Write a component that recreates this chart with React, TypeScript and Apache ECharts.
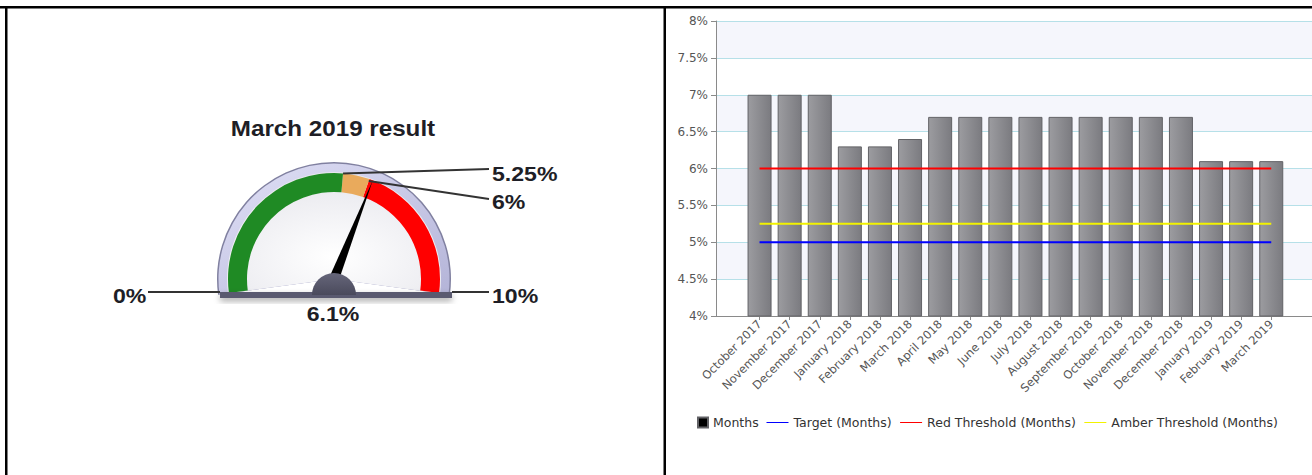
import React, { useEffect, useRef } from 'react';
import * as echarts from 'echarts';

// ---------- data ----------
const months = [
  'October 2017', 'November 2017', 'December 2017', 'January 2018', 'February 2018',
  'March 2018', 'April 2018', 'May 2018', 'June 2018', 'July 2018', 'August 2018',
  'September 2018', 'October 2018', 'November 2018', 'December 2018', 'January 2019',
  'February 2019', 'March 2019',
];
const monthValues = [7, 7, 7, 6.3, 6.3, 6.4, 6.7, 6.7, 6.7, 6.7, 6.7, 6.7, 6.7, 6.7, 6.7, 6.1, 6.1, 6.1];
const targetValues = [5, 5, 5, 5, 5, 5, 5, 5, 5, 5, 5, 5, 5, 5, 5, 5, 5, 5];
const redThresholdValues = [6, 6, 6, 6, 6, 6, 6, 6, 6, 6, 6, 6, 6, 6, 6, 6, 6, 6];
const amberThresholdValues = [5.25, 5.25, 5.25, 5.25, 5.25, 5.25, 5.25, 5.25, 5.25, 5.25, 5.25, 5.25, 5.25, 5.25, 5.25, 5.25, 5.25, 5.25];
const seriesNames = ['Months', 'Target (Months)', 'Red Threshold (Months)', 'Amber Threshold (Months)'];
const yMin = 4;
const yMax = 8;
const yInterval = 0.5;

const gaugeTitle = 'March 2019 result';
const gaugeMin = 0;
const gaugeMax = 10;
const gaugeAmber = 5.25;
const gaugeRed = 6;
const gaugeValue = 6.1;

// ---------- layout ----------
const W = 1312;
const H = 475;
const GCX = 334;
const GCY = 279;
const GR = 106;
const G_START = 187.6;
const G_END = -7.6;
const FONT = '"Liberation Sans", Arial, sans-serif';
const AXFONT = '"DejaVu Sans", Verdana, sans-serif';

const pct = (v: number) => `${v}%`;

function gaugePoint(v: number, r: number) {
  const a = ((G_START - ((v - gaugeMin) / (gaugeMax - gaugeMin)) * (G_START - G_END)) * Math.PI) / 180;
  return [GCX + r * Math.cos(a), GCY - r * Math.sin(a)];
}

function gaugeText(text: string, x: number, y: number, align: string, size = 21) {
  return {
    type: 'text',
    x,
    y,
    scaleX: 1.1,
    z: 20,
    style: {
      text,
      fill: '#1e1e26',
      fontSize: size,
      fontWeight: 'bold',
      fontFamily: FONT,
      align,
      verticalAlign: 'middle',
    },
  };
}

function leader(x1: number, y1: number, x2: number, y2: number) {
  return {
    type: 'line',
    z: 19,
    shape: { x1, y1, x2, y2 },
    style: { stroke: '#333', lineWidth: 2 },
  };
}

export default function App() {
  const ref = useRef<HTMLDivElement>(null);

  useEffect(() => {
    if (!ref.current) return;
    const chart = echarts.init(ref.current, undefined, { renderer: 'svg' });

    const ext = 0.135;
    const amberPt = gaugePoint(gaugeAmber, GR);
    const redPt = gaugePoint(gaugeRed, GR - 2);

    const barColor = {
      type: 'linear', x: 0, y: 0, x2: 1, y2: 0,
      colorStops: [
        { offset: 0, color: '#9c9ca0' },
        { offset: 1, color: '#7b7b80' },
      ],
    };

    const option: any = {
      animation: false,
      grid: [
        { left: 716, top: 21, right: 0, bottom: H - 316 },
        { left: 744.5, top: 21, width: 541.8, bottom: H - 316 },
      ],
      xAxis: [
        {
          gridIndex: 0, type: 'value', min: 0, max: 1,
          axisLine: { show: true, lineStyle: { color: '#8a8a8a' } },
          axisTick: { show: false }, axisLabel: { show: false }, splitLine: { show: false },
        },
        {
          gridIndex: 1, type: 'category', data: months,
          axisLine: { show: false },
          axisTick: { show: true, alignWithLabel: true, length: 4, lineStyle: { color: '#8a8a8a' } },
          axisLabel: {
            interval: 0, rotate: 45, margin: 6, fontSize: 11.5, color: '#555',
            fontFamily: AXFONT,
          },
        },
      ],
      yAxis: [
        {
          gridIndex: 0, type: 'value', min: yMin, max: yMax, interval: yInterval,
          axisLine: { show: true, lineStyle: { color: '#8a8a8a' } },
          axisTick: { show: true, length: 5, lineStyle: { color: '#8a8a8a' } },
          axisLabel: { formatter: pct, fontSize: 12, color: '#555', fontFamily: AXFONT, margin: 8 },
          splitLine: { show: true, lineStyle: { color: '#b6e0e8' } },
          splitArea: { show: true, areaStyle: { color: ['#ffffff', '#f5f6fc'] } },
        },
        {
          gridIndex: 1, type: 'value', min: yMin, max: yMax, interval: yInterval, show: false,
        },
      ],
      legend: [
        {
          left: 697, top: 416, padding: 0, itemWidth: 10, itemHeight: 10, selectedMode: false,
          textStyle: { fontSize: 12.5, color: '#333', fontFamily: AXFONT },
          data: [{ name: seriesNames[0], icon: 'rect', itemStyle: { color: '#000' } }],
        },
        {
          left: 766, top: 416, padding: 0, itemWidth: 22, itemHeight: 10, itemGap: 8, selectedMode: false,
          textStyle: { fontSize: 12.5, color: '#333', fontFamily: AXFONT },
          itemStyle: { opacity: 0 },
          lineStyle: { width: 1 },
          data: [seriesNames[1], seriesNames[2], seriesNames[3]],
        },
      ],
      series: [
        {
          name: seriesNames[0], type: 'bar', xAxisIndex: 1, yAxisIndex: 1,
          data: monthValues, barWidth: 24,
          itemStyle: { color: barColor, borderColor: '#626266', borderWidth: 1 },
        },
        {
          name: seriesNames[1], type: 'line', xAxisIndex: 1, yAxisIndex: 1,
          data: targetValues, showSymbol: false, color: '#0000ff',
          lineStyle: { width: 2, color: '#0000ff' },
        },
        {
          name: seriesNames[2], type: 'line', xAxisIndex: 1, yAxisIndex: 1,
          data: redThresholdValues, showSymbol: false, color: '#ff0000',
          lineStyle: { width: 2, color: '#ff0000' },
        },
        {
          name: seriesNames[3], type: 'line', xAxisIndex: 1, yAxisIndex: 1,
          data: amberThresholdValues, showSymbol: false, color: '#f2f200',
          lineStyle: { width: 2, color: '#f2f200' },
        },
        {
          name: 'gauge', type: 'gauge', center: [GCX, GCY], radius: GR,
          startAngle: G_START, endAngle: G_END, min: gaugeMin, max: gaugeMax, z: 5,
          axisLine: {
            lineStyle: {
              width: 19,
              color: [
                [(gaugeAmber - gaugeMin) / (gaugeMax - gaugeMin), '#1f8a24'],
                [(gaugeRed - gaugeMin) / (gaugeMax - gaugeMin), '#e9aa5c'],
                [1, '#ff0000'],
              ],
            },
          },
          splitLine: { show: false }, axisTick: { show: false }, axisLabel: { show: false },
          pointer: { icon: 'triangle', length: '100%', width: 10, itemStyle: { color: '#000' } },
          anchor: { show: false }, title: { show: false }, detail: { show: false },
          data: [{ value: gaugeValue }],
        },
      ],
      graphic: [
        // panel borders
        { type: 'rect', z: 30, shape: { x: 0, y: 6, width: W, height: 2.5 }, style: { fill: '#000' } },
        { type: 'rect', z: 30, shape: { x: 5, y: 6, width: 2.5, height: H }, style: { fill: '#000' } },
        { type: 'rect', z: 30, shape: { x: 663.5, y: 6, width: 2.5, height: H }, style: { fill: '#000' } },
        // gauge frame
        {
          type: 'sector', z: 1,
          shape: { cx: GCX, cy: GCY, r: GR + 11, r0: 0, startAngle: Math.PI - ext, endAngle: 2 * Math.PI + ext, clockwise: true },
          style: { fill: '#8080a0' },
        },
        {
          type: 'sector', z: 1,
          shape: { cx: GCX, cy: GCY, r: GR + 9.5, r0: 0, startAngle: Math.PI - ext, endAngle: 2 * Math.PI + ext, clockwise: true },
          style: {
            fill: {
              type: 'linear', x: 0, y: 0, x2: 1, y2: 1,
              colorStops: [{ offset: 0, color: '#e0e0f6' }, { offset: 1, color: '#b4b4d8' }],
            },
          },
        },
        {
          type: 'sector', z: 1,
          shape: { cx: GCX, cy: GCY, r: GR + 1, r0: 0, startAngle: Math.PI - ext, endAngle: 2 * Math.PI + ext, clockwise: true },
          style: {
            fill: {
              type: 'radial', x: 0.5, y: 0.7, r: 0.7,
              colorStops: [{ offset: 0, color: '#ffffff' }, { offset: 1, color: '#e6e6ec' }],
            },
          },
        },
        // base bar
        {
          type: 'rect', z: 8,
          shape: { x: 220, y: 292, width: 232, height: 6 },
          style: { fill: '#5a5a70', shadowBlur: 6, shadowColor: 'rgba(0,0,0,0.35)', shadowOffsetY: 3 },
        },
        // hub
        {
          type: 'sector', z: 9,
          shape: { cx: GCX, cy: 295, r: 22, r0: 0, startAngle: Math.PI, endAngle: 2 * Math.PI, clockwise: true },
          style: {
            fill: {
              type: 'linear', x: 0, y: 0, x2: 0, y2: 1,
              colorStops: [{ offset: 0, color: '#66667a' }, { offset: 1, color: '#4a4a5c' }],
            },
          },
        },
        // leader lines
        leader(148, 292, 220, 292),
        leader(452, 292, 489, 292),
        leader(amberPt[0], amberPt[1], 489, 169),
        leader(redPt[0], redPt[1], 489, 199),
        // labels
        gaugeText(gaugeTitle, 333, 128, 'center', 22),
        gaugeText(pct(gaugeMin), 113, 296, 'left'),
        gaugeText(pct(gaugeMax), 492, 296, 'left'),
        gaugeText(pct(gaugeAmber), 492, 174, 'left'),
        gaugeText(pct(gaugeRed), 492, 202, 'left'),
        gaugeText(pct(gaugeValue), 333, 314, 'center'),
      ],
    };

    chart.setOption(option);
    return () => chart.dispose();
  }, []);

  return (
    <div
      ref={ref}
      style={{ position: 'fixed', left: 0, top: 0, width: W, height: H, background: '#fff' }}
    />
  );
}
